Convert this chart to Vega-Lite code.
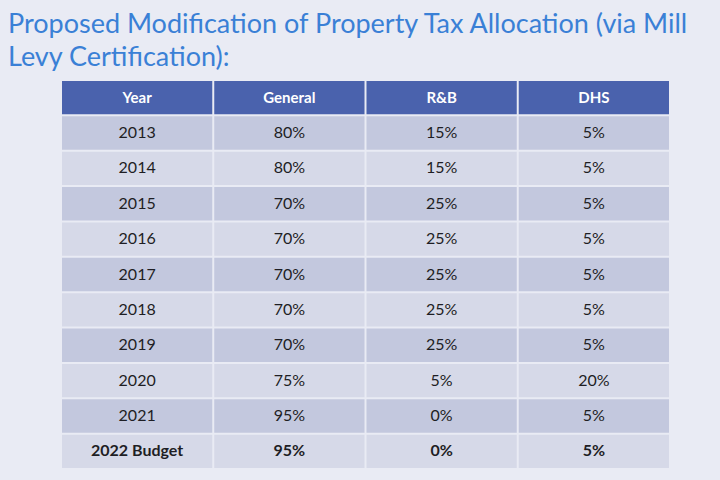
{
  "$schema": "https://vega.github.io/schema/vega-lite/v6.json",
  "width": 607,
  "height": 387,
  "autosize": {"type": "none"},
  "padding": {"left": 62, "top": 81, "right": 51, "bottom": 12},
  "background": "#e9ebf4",
  "config": {"view": {"stroke": null}},
  "title": {
    "text": ["Proposed Modification of Property Tax Allocation (via Mill", "Levy Certification):"],
    "anchor": "start",
    "frame": "group",
    "dx": -54,
    "offset": 9,
    "font": "Lato",
    "fontSize": 27,
    "fontWeight": "normal",
    "lineHeight": 33,
    "color": "#3a80d6"
  },
  "data": {
    "values": [
      {"row": "Year", "col": "Year", "v": "Year", "band": "head", "bold": true},
      {"row": "Year", "col": "General", "v": "General", "band": "head", "bold": true},
      {"row": "Year", "col": "R&B", "v": "R&B", "band": "head", "bold": true},
      {"row": "Year", "col": "DHS", "v": "DHS", "band": "head", "bold": true},
      {"row": "2013", "col": "Year", "v": "2013", "band": "dark", "bold": false},
      {"row": "2013", "col": "General", "v": "80%", "band": "dark", "bold": false},
      {"row": "2013", "col": "R&B", "v": "15%", "band": "dark", "bold": false},
      {"row": "2013", "col": "DHS", "v": "5%", "band": "dark", "bold": false},
      {"row": "2014", "col": "Year", "v": "2014", "band": "light", "bold": false},
      {"row": "2014", "col": "General", "v": "80%", "band": "light", "bold": false},
      {"row": "2014", "col": "R&B", "v": "15%", "band": "light", "bold": false},
      {"row": "2014", "col": "DHS", "v": "5%", "band": "light", "bold": false},
      {"row": "2015", "col": "Year", "v": "2015", "band": "dark", "bold": false},
      {"row": "2015", "col": "General", "v": "70%", "band": "dark", "bold": false},
      {"row": "2015", "col": "R&B", "v": "25%", "band": "dark", "bold": false},
      {"row": "2015", "col": "DHS", "v": "5%", "band": "dark", "bold": false},
      {"row": "2016", "col": "Year", "v": "2016", "band": "light", "bold": false},
      {"row": "2016", "col": "General", "v": "70%", "band": "light", "bold": false},
      {"row": "2016", "col": "R&B", "v": "25%", "band": "light", "bold": false},
      {"row": "2016", "col": "DHS", "v": "5%", "band": "light", "bold": false},
      {"row": "2017", "col": "Year", "v": "2017", "band": "dark", "bold": false},
      {"row": "2017", "col": "General", "v": "70%", "band": "dark", "bold": false},
      {"row": "2017", "col": "R&B", "v": "25%", "band": "dark", "bold": false},
      {"row": "2017", "col": "DHS", "v": "5%", "band": "dark", "bold": false},
      {"row": "2018", "col": "Year", "v": "2018", "band": "light", "bold": false},
      {"row": "2018", "col": "General", "v": "70%", "band": "light", "bold": false},
      {"row": "2018", "col": "R&B", "v": "25%", "band": "light", "bold": false},
      {"row": "2018", "col": "DHS", "v": "5%", "band": "light", "bold": false},
      {"row": "2019", "col": "Year", "v": "2019", "band": "dark", "bold": false},
      {"row": "2019", "col": "General", "v": "70%", "band": "dark", "bold": false},
      {"row": "2019", "col": "R&B", "v": "25%", "band": "dark", "bold": false},
      {"row": "2019", "col": "DHS", "v": "5%", "band": "dark", "bold": false},
      {"row": "2020", "col": "Year", "v": "2020", "band": "light", "bold": false},
      {"row": "2020", "col": "General", "v": "75%", "band": "light", "bold": false},
      {"row": "2020", "col": "R&B", "v": "5%", "band": "light", "bold": false},
      {"row": "2020", "col": "DHS", "v": "20%", "band": "light", "bold": false},
      {"row": "2021", "col": "Year", "v": "2021", "band": "dark", "bold": false},
      {"row": "2021", "col": "General", "v": "95%", "band": "dark", "bold": false},
      {"row": "2021", "col": "R&B", "v": "0%", "band": "dark", "bold": false},
      {"row": "2021", "col": "DHS", "v": "5%", "band": "dark", "bold": false},
      {"row": "2022 Budget", "col": "Year", "v": "2022 Budget", "band": "light", "bold": true},
      {"row": "2022 Budget", "col": "General", "v": "95%", "band": "light", "bold": true},
      {"row": "2022 Budget", "col": "R&B", "v": "0%", "band": "light", "bold": true},
      {"row": "2022 Budget", "col": "DHS", "v": "5%", "band": "light", "bold": true}
    ]
  },
  "encoding": {
    "x": {
      "field": "col", "type": "nominal", "axis": null,
      "scale": {"domain": ["Year", "General", "R&B", "DHS"], "paddingInner": 0.013, "paddingOuter": 0}
    },
    "y": {
      "field": "row", "type": "nominal", "axis": null,
      "scale": {"domain": ["Year", "2013", "2014", "2015", "2016", "2017", "2018", "2019", "2020", "2021", "2022 Budget"], "paddingInner": 0.06, "paddingOuter": 0}
    }
  },
  "layer": [
    {
      "mark": {"type": "rect"},
      "encoding": {
        "fill": {
          "field": "band", "type": "nominal", "legend": null,
          "scale": {"domain": ["head", "dark", "light"], "range": ["#4a62ad", "#c3c8de", "#d6d9e8"]}
        }
      }
    },
    {
      "transform": [{"filter": "datum.bold == false"}],
      "mark": {"type": "text", "font": "Lato", "fontSize": 16, "color": "#1e1e24", "baseline": "middle", "align": "center"},
      "encoding": {"text": {"field": "v", "type": "nominal"}}
    },
    {
      "transform": [{"filter": "datum.bold == true && datum.band == 'light'"}],
      "mark": {"type": "text", "font": "Lato", "fontSize": 16, "fontWeight": "bold", "color": "#1e1e24", "baseline": "middle", "align": "center"},
      "encoding": {"text": {"field": "v", "type": "nominal"}}
    },
    {
      "transform": [{"filter": "datum.band == 'head'"}],
      "mark": {"type": "text", "font": "Lato", "fontSize": 15, "fontWeight": "bold", "color": "#ffffff", "baseline": "middle", "align": "center"},
      "encoding": {"text": {"field": "v", "type": "nominal"}}
    }
  ]
}
